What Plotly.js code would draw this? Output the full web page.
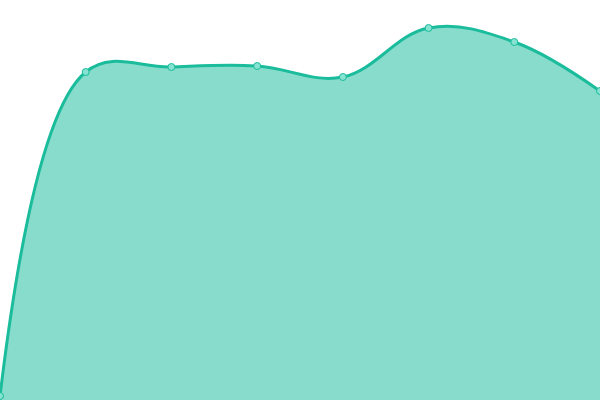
<!DOCTYPE html>
<html><head><meta charset="utf-8">
<script src="https://cdn.plot.ly/plotly-3.0.1.min.js"></script>
<style>html,body{margin:0;padding:0;background:#fff}#chart{width:600px;height:400px}</style>
</head><body><div id="chart"></div>
<script>
var xValues = [0, 1, 2, 3, 4, 5, 6, 7];
var yValues = [1, 82, 83.25, 83.5, 80.75, 93, 89.5, 77.25];
var trace = {
  x: xValues, y: yValues, type: 'scatter', mode: 'lines+markers',
  fill: 'tozeroy', fillcolor: 'rgba(26,188,156,0.52)',
  line: {shape: 'spline', smoothing: 1.1, color: '#1abc9c', width: 3},
  marker: {size: 7, color: '#86e3d1', line: {color: '#1abc9c', width: 1}},
  hoverinfo: 'none'
};
Plotly.newPlot('chart', [trace], {
  width: 600, height: 400, margin: {l: 0, r: 0, t: 0, b: 0},
  paper_bgcolor: '#fff', plot_bgcolor: '#fff', showlegend: false,
  xaxis: {range: [0, 7], visible: false, fixedrange: true},
  yaxis: {range: [0, 100], visible: false, fixedrange: true}
}, {displayModeBar: false, staticPlot: true});
</script></body></html>
